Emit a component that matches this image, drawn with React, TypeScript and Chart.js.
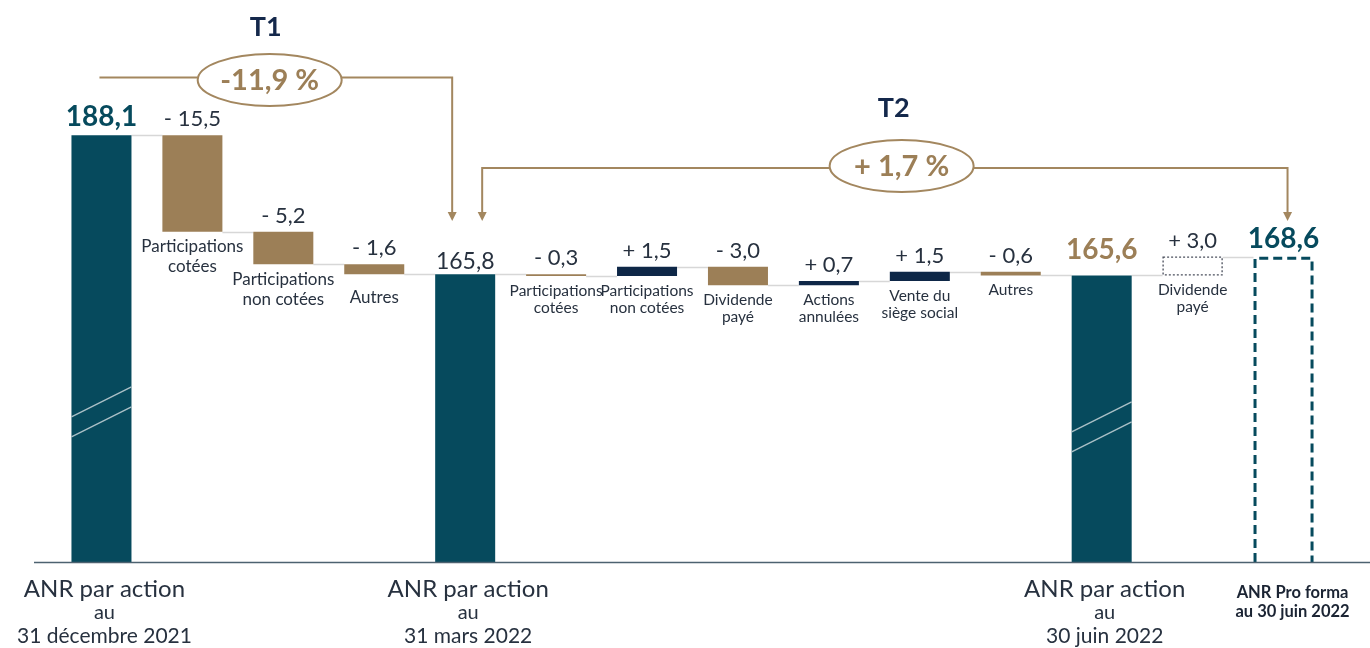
import { useEffect, useRef } from "react";
import { Chart, registerables } from "chart.js";

Chart.register(...registerables);

// ---- data -------------------------------------------------------------
const categories = [
  "ANR 31/12/2021",
  "Participations cotées T1",
  "Participations non cotées T1",
  "Autres T1",
  "ANR 31/03/2022",
  "Participations cotées T2",
  "Participations non cotées T2",
  "Dividende payé",
  "Actions annulées",
  "Vente du siège social",
  "Autres T2",
  "ANR 30/06/2022",
  "Dividende payé pro forma",
  "ANR pro forma 30/06/2022",
];

// totals are absolute values, steps are variations
const values = [188.1, -15.5, -5.2, -1.6, 165.8, -0.3, 1.5, -3.0, 0.7, 1.5, -0.6, 165.6, 3.0, 168.6];
const kinds = ["total", "step", "step", "step", "total", "step", "step", "step", "step", "step", "step", "total", "proforma", "proformaTotal"];

const stepLabels: string[][] = [
  [],
  ["Participations", "cotées"],
  ["Participations", "non cotées"],
  ["Autres"],
  [],
  ["Participations", "cotées"],
  ["Participations", "non cotées"],
  ["Dividende", "payé"],
  ["Actions", "annulées"],
  ["Vente du", "siège social"],
  ["Autres"],
  [],
  ["Dividende", "payé"],
  [],
];

const axisLabels: string[][] = [
  ["ANR par action", "au", "31 décembre 2021"],
  [], [], [],
  ["ANR par action", "au", "31 mars 2022"],
  [], [], [], [], [], [],
  ["ANR par action", "au", "30 juin 2022"],
  [],
  ["ANR Pro forma", "au 30 juin 2022"],
];

const periodTitles = ["T1", "T2"];
const periodChanges = ["-11,9 %", "+ 1,7 %"];
const periodFrom = [0, 4];
const periodTo = [4, 13];

// value at which the axis-break marks cross the tall bars
const breakBars = [0, 11];
const breakValues = [143.7, 141.3];

// ---- styles -----------------------------------------------------------
const TEAL = "#064a5d";
const GOLD = "#9c7f57";
const NAVY = "#0e2747";
const TEXT = "#27313f";
const LINE_GOLD = "#a3875f";
const CONNECT = "#d7d7d7";
const FONT = "Lato, 'Open Sans', sans-serif";
const Y_MIN = 119.6;
const Y_MAX = 209.8;

const fmtNum = (v: number) => v.toFixed(1).replace(".", ",");
const fmtStep = (v: number) => `${v < 0 ? "-" : "+"} ${fmtNum(Math.abs(v))}`;

// floating ranges [start, end] for each bar
const ranges: [number, number][] = [];
const levels: number[] = [];
{
  let level = 0;
  values.forEach((v, i) => {
    if (kinds[i] === "total" || kinds[i] === "proformaTotal") {
      ranges.push([Y_MIN, v]);
      level = v;
    } else {
      ranges.push([level, level + v]);
      level = level + v;
    }
    levels.push(level);
  });
}

const barColors = values.map((v, i) => {
  const k = kinds[i];
  if (k === "total") return TEAL;
  if (k === "proforma" || k === "proformaTotal") return "rgba(0,0,0,0)";
  return v < 0 ? GOLD : NAVY;
});

const waterfallPlugin = {
  id: "waterfallDecor",
  beforeDatasetsDraw(chart: any) {
    const ctx = chart.ctx;
    const meta = chart.getDatasetMeta(0);
    const y = chart.scales.y;
    ctx.save();
    ctx.strokeStyle = CONNECT;
    ctx.lineWidth = 1.5;
    for (let i = 0; i < meta.data.length - 1; i++) {
      const a = meta.data[i];
      const b = meta.data[i + 1];
      const py = Math.round(y.getPixelForValue(levels[i])) + 0.5;
      ctx.beginPath();
      ctx.moveTo(a.x + a.width / 2, py);
      ctx.lineTo(b.x - b.width / 2, py);
      ctx.stroke();
    }
    ctx.restore();
  },
  afterDatasetsDraw(chart: any) {
    const ctx = chart.ctx;
    const meta = chart.getDatasetMeta(0);
    const y = chart.scales.y;
    const x = chart.scales.x;
    const area = chart.chartArea;
    ctx.save();

    // outlined pro forma bars
    meta.data.forEach((el: any, i: number) => {
      const left = el.x - el.width / 2;
      const right = el.x + el.width / 2;
      const top = Math.min(el.y, el.base);
      const bottom = Math.max(el.y, el.base);
      if (kinds[i] === "proforma") {
        ctx.setLineDash([2, 2]);
        ctx.strokeStyle = "#4a4f5c";
        ctx.lineWidth = 1.3;
        ctx.strokeRect(left + 0.5, top + 0.5, el.width - 1, bottom - top - 1);
      } else if (kinds[i] === "proformaTotal") {
        ctx.setLineDash([9, 5]);
        ctx.strokeStyle = TEAL;
        ctx.lineWidth = 3;
        ctx.beginPath();
        ctx.moveTo(left + 1.5, bottom);
        ctx.lineTo(left + 1.5, top + 1.5);
        ctx.lineTo(right - 1.5, top + 1.5);
        ctx.lineTo(right - 1.5, bottom);
        ctx.stroke();
      }
    });
    ctx.setLineDash([]);

    // axis-break marks
    breakBars.forEach((bi, k) => {
      const el = meta.data[bi];
      const cy = y.getPixelForValue(breakValues[k]);
      const left = el.x - el.width / 2;
      const right = el.x + el.width / 2;
      ctx.strokeStyle = "#a9bfc6";
      ctx.lineWidth = 1.4;
      [-10, 10].forEach((off) => {
        ctx.beginPath();
        ctx.moveTo(left, cy + off + 15);
        ctx.lineTo(right, cy + off - 15);
        ctx.stroke();
      });
    });

    // axis line
    ctx.strokeStyle = "#4d6270";
    ctx.lineWidth = 1.5;
    ctx.beginPath();
    ctx.moveTo(34, area.bottom + 0.5);
    ctx.lineTo(chart.width, area.bottom + 0.5);
    ctx.stroke();

    // value labels
    ctx.textAlign = "center";
    ctx.textBaseline = "alphabetic";
    meta.data.forEach((el: any, i: number) => {
      const top = Math.min(el.y, el.base);
      const k = kinds[i];
      let text: string;
      if (k === "total" || k === "proformaTotal") {
        text = fmtNum(values[i]);
        if (i === 4) {
          ctx.font = `400 23px ${FONT}`;
          ctx.fillStyle = TEXT;
        } else {
          ctx.font = `700 28px ${FONT}`;
          ctx.fillStyle = i === 11 ? GOLD : TEAL;
        }
      } else {
        text = fmtStep(values[i]);
        ctx.font = `400 22px ${FONT}`;
        ctx.fillStyle = TEXT;
      }
      const lift = i === 11 ? 16 : i === 4 ? 5 : 9;
      ctx.fillText(text, el.x, top - lift);
    });

    // step labels under the bars
    ctx.textBaseline = "middle";
    ctx.fillStyle = TEXT;
    meta.data.forEach((el: any, i: number) => {
      const lines = stepLabels[i];
      if (!lines.length) return;
      const bottom = Math.max(el.y, el.base);
      const big = i < 4;
      ctx.font = `400 ${big ? 17 : 15.5}px ${FONT}`;
      const lh = big ? 20 : 17;
      const gap = i === 3 ? 23 : 15;
      lines.forEach((ln, j) => ctx.fillText(ln, el.x, bottom + gap + j * lh));
    });

    // axis labels
    meta.data.forEach((el: any, i: number) => {
      const lines = axisLabels[i];
      if (!lines.length) return;
      if (kinds[i] === "proformaTotal") {
        ctx.font = `700 16.5px ${FONT}`;
        ctx.fillStyle = "#1b2433";
        lines.forEach((ln, j) => ctx.fillText(ln, el.x + 9, area.bottom + 31 + j * 19));
      } else {
        ctx.fillStyle = TEXT;
        const sizes = [24, 20, 21];
        const offs = [27, 51, 74];
        lines.forEach((ln, j) => {
          ctx.font = `400 ${sizes[j]}px ${FONT}`;
          ctx.fillText(ln, el.x + 3, area.bottom + offs[j]);
        });
      }
    });

    // period brackets
    const arrowHead = (ax: number, ay: number) => {
      ctx.fillStyle = LINE_GOLD;
      ctx.beginPath();
      ctx.moveTo(ax - 4.5, ay - 9);
      ctx.lineTo(ax + 4.5, ay - 9);
      ctx.lineTo(ax, ay);
      ctx.closePath();
      ctx.fill();
    };
    const bracketY = [77.5, 168];
    const ovalAt = [1.85, 8.8];
    const titleY = [27, 108];
    periodTitles.forEach((title, p) => {
      const a = meta.data[periodFrom[p]];
      const b = meta.data[periodTo[p]];
      const x1 = p === 0 ? a.x - 2 : a.x + 17;
      const x2 = p === 0 ? b.x - 13 : b.x + 4;
      const ly = bracketY[p];
      const tipY = 221;
      const cx = x.getPixelForValue(0) + ovalAt[p] * (x.getPixelForValue(1) - x.getPixelForValue(0));
      const cy = ly + (p === 0 ? 2.5 : -2);
      const rx = 72;
      const ry = 26;
      ctx.strokeStyle = LINE_GOLD;
      ctx.lineWidth = 2;
      ctx.beginPath();
      if (p === 0) {
        ctx.moveTo(x1, ly);
      } else {
        ctx.moveTo(x1, tipY - 8);
        ctx.lineTo(x1, ly);
      }
      ctx.lineTo(cx - rx, ly);
      ctx.moveTo(cx + rx, ly);
      ctx.lineTo(x2, ly);
      ctx.lineTo(x2, tipY - 8);
      ctx.stroke();
      if (p === 1) arrowHead(x1, tipY);
      arrowHead(x2, tipY);

      ctx.beginPath();
      ctx.ellipse(cx, cy, rx, ry, 0, 0, Math.PI * 2);
      ctx.fillStyle = "#ffffff";
      ctx.fill();
      ctx.stroke();

      ctx.fillStyle = GOLD;
      ctx.font = `700 29px ${FONT}`;
      ctx.textBaseline = "middle";
      ctx.fillText(periodChanges[p], cx, cy + 1);

      ctx.fillStyle = "#14284b";
      ctx.font = `700 27px ${FONT}`;
      ctx.fillText(title, cx - 4 - (p === 1 ? 4 : 0), titleY[p]);
    });

    ctx.restore();
  },
};

export default function App() {
  const ref = useRef<HTMLCanvasElement | null>(null);

  useEffect(() => {
    if (!ref.current) return;
    const chart = new Chart(ref.current, {
      type: "bar",
      data: {
        labels: categories,
        datasets: [
          {
            data: ranges as any,
            backgroundColor: barColors,
            borderWidth: 0,
            barPercentage: 0.66,
            categoryPercentage: 1,
          },
        ],
      },
      options: {
        animation: false,
        responsive: false,
        layout: { padding: { left: 56, right: 41, top: 0, bottom: 86 } },
        plugins: { legend: { display: false }, tooltip: { enabled: false } },
        scales: {
          x: { display: false },
          y: { display: false, min: Y_MIN, max: Y_MAX },
        },
      },
      plugins: [waterfallPlugin],
    });
    return () => chart.destroy();
  }, []);

  return (
    <div style={{ position: "absolute", left: 0, top: 0, width: 1370, height: 648, background: "#fff" }}>
      <canvas ref={ref} width={1370} height={648} />
    </div>
  );
}
